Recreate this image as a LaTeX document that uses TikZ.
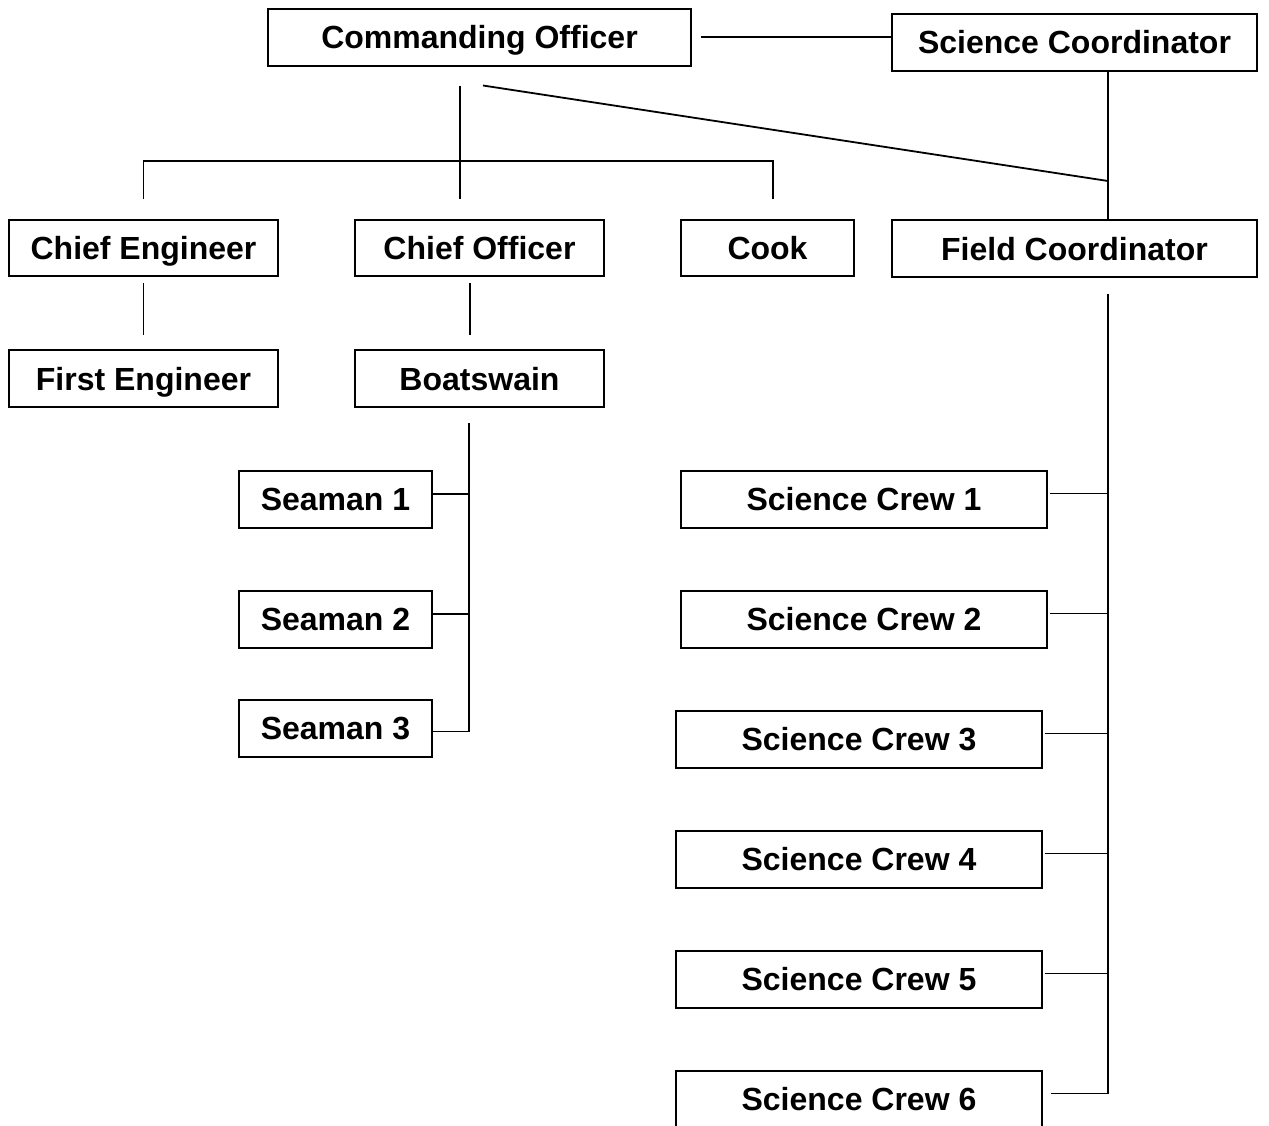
\documentclass[tikz,border=0pt]{standalone}
\usepackage{fontspec}
\setmainfont{Liberation Sans}
\usetikzlibrary{positioning}

\begin{document}
\begin{tikzpicture}[x=0.5pt,y=-0.5pt,
		box/.style={draw,line width=1pt,inner sep=0pt,minimum height=28.5pt,
			text height=11.5pt,text depth=0pt,
			font=\fontsize{16}{19}\selectfont\bfseries},
		link/.style={line width=0.9pt},
		node distance=30.5pt]
				\clip (0,0) rectangle (1269,1125);
				\node[box,minimum width=211.5pt] (co) at (479.5,37) {Commanding Officer};
				\node[box,minimum width=182.5pt] (scoord) at (1074.5,42) {Science Coordinator};
				\node[box,minimum width=182.5pt] (fc) at (1074.5,248.5) {Field Coordinator};
				\node[box,minimum width=134.5pt,minimum height=28pt] (ce) at (143.5,248) {Chief Engineer};
				\node[box,minimum width=124.5pt,minimum height=28pt] (cof) at (479.5,248) {Chief Officer};
				\node[box,minimum width=86.5pt,minimum height=28pt] (cook) at (767.5,248) {Cook};
				\node[box,minimum width=134.5pt] [below=36pt of ce] (fe) {First Engineer};
				\node[box,minimum width=124.5pt] [below=36pt of cof] (bosun) {Boatswain};
				\node[box,minimum width=96.5pt] (sea1) at (335.5,499) {Seaman 1};
				\node[box,minimum width=96.5pt] [below= of sea1] (sea2) {Seaman 2};
				\node[box,minimum width=96.5pt] [below=25pt of sea2] (sea3) {Seaman 3};
				\node[box,minimum width=183pt] (crew1) at (864,499) {Science Crew 1};
				\node[box,minimum width=183pt] [below= of crew1] (crew2) {Science Crew 2};
				\node[box,minimum width=183pt] [below= of crew2,xshift=-2.5pt] (crew3) {Science Crew 3};
				\node[box,minimum width=183pt] [below= of crew3] (crew4) {Science Crew 4};
				\node[box,minimum width=183pt] [below= of crew4] (crew5) {Science Crew 5};
				\node[box,minimum width=183pt] [below= of crew5] (crew6) {Science Crew 6};
				\coordinate (bar) at (460,161);
				\coordinate (sjoin) at (1108,181);
				\coordinate (bspine) at (469,423);
				\draw[link] ([xshift=4.5pt]co.east) -- (co.east -| scoord.west);
				\draw[link] (scoord.south -| sjoin) -- (fc.north -| sjoin);
				\draw[link] ([xshift=1.75pt,yshift=-9.5pt]co.south) -- (sjoin);
				\draw[link] ([yshift=-9.5pt]co.south -| bar) -- ([yshift=10pt]cof.north -| bar);
				\draw[link] ([yshift=10pt]ce.north) |- (bar) -| ([xshift=2.75pt,yshift=10pt]cook.north);
				\draw[link] ([yshift=-3pt]ce.south) -- ([yshift=7pt]fe.north);
				\draw[link] ([xshift=-4.75pt,yshift=-3pt]cof.south) -- ([xshift=-4.75pt,yshift=7pt]bosun.north);
				\draw[link] (bspine) -- ([yshift=-1.75pt]sea3.east -| bspine);
				\foreach \i/\dy in {1/2.5,2/2.5,3/-1.75}
					\draw[link] ([yshift=\dy pt]sea\i.east) -- ([yshift=\dy pt]sea\i.east -| bspine);
				\draw[link] ([yshift=-8pt]fc.south -| sjoin) |- ([xshift=4pt,yshift=2.75pt]crew6.east);
				\foreach \i in {1,...,5}
					\draw[link] ([xshift=1pt,yshift=2.75pt]crew\i.east) -- ([yshift=2.75pt]crew\i.east -| sjoin);
			\end{tikzpicture}
\end{document}
